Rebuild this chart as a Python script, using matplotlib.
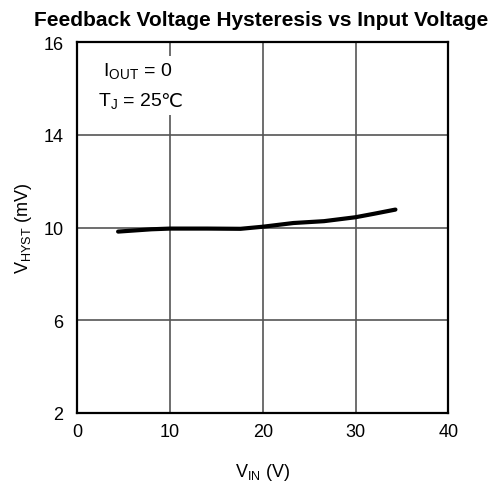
import matplotlib
matplotlib.use("Agg")
import matplotlib.pyplot as plt
from matplotlib.patches import Rectangle

plt.rcParams['font.family'] = ['Liberation Sans', 'DejaVu Sans']
plt.rcParams['mathtext.fontset'] = 'custom'
plt.rcParams['mathtext.rm'] = 'Liberation Sans'

# data
vin = [4.4, 8, 10, 14, 17.6, 20, 23.3, 26.6, 30, 32, 34.3]
vhyst = [9.83, 9.93, 9.96, 9.96, 9.95, 10.04, 10.2, 10.28, 10.45, 10.6, 10.78]
x_ticks = [0, 10, 20, 30, 40]
y_ticks = [2, 6, 10, 14, 18]
y_tick_labels = ['2', '6', '10', '14', '16']

fig = plt.figure(figsize=(5, 4.85), dpi=100)
ax = fig.add_axes([0.1546, 0.1464, 0.742, 0.7643])

ax.plot(vin, vhyst, color='black', linewidth=3, solid_capstyle='round')

ax.set_xlim(0, 40)
ax.set_ylim(2, 18)
ax.set_xticks(x_ticks)
ax.set_yticks(y_ticks)
ax.set_yticklabels(y_tick_labels)
ax.tick_params(length=0, labelsize=13)
ax.tick_params(axis='x', pad=7)
ax.tick_params(axis='y', pad=10)
ax.grid(True, color='#555555', linewidth=1.2)
for s in ax.spines.values():
    s.set_linewidth(1.6)

ax.set_xlabel(r'$\mathregular{V_{IN}}$ (V)', fontsize=13, labelpad=15)
ax.set_ylabel(r'$\mathregular{V_{HYST}}$ (mV)', fontsize=13, labelpad=7)
fig.suptitle('Feedback Voltage Hysteresis vs Input Voltage', x=0.522, y=0.978,
             fontsize=15, fontweight='bold')

# white patch behind the condition text (breaks the grid line like the original)
ax.add_patch(Rectangle((1.5, 14.85), 9.8, 2.55, facecolor='white', edgecolor='none', zorder=1.6))
ax.text(2.8, 16.8, r'$\mathregular{I_{OUT}}$ = 0', fontsize=14, va='center', zorder=3)
t = ax.text(2.2, 15.5, r'$\mathregular{T_J}$ = 25', fontsize=14, va='center', zorder=3)
ax.annotate('℃', xy=(1, 0.5), xycoords=t, xytext=(-1.5, 0), textcoords='offset points',
            va='center', ha='left', fontsize=14, family='DejaVu Sans', zorder=3)

fig.savefig('out.png', dpi=100)
